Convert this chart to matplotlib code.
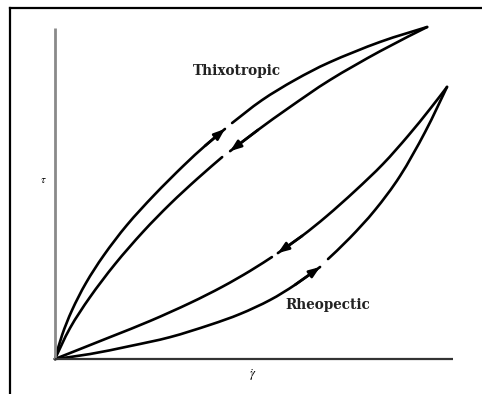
import matplotlib
matplotlib.use("Agg")
import matplotlib.pyplot as plt
import numpy as np
from matplotlib.lines import Line2D
from matplotlib.path import Path
from matplotlib.patches import PathPatch

plt.rcParams['mathtext.fontset'] = 'stix'

# Thixotropic loop (shear rate, shear stress), normalised
thixo_up_1_x = [0, .018, .043, .078, .123, .181, .249, .322, .377, .427]
thixo_up_1_y = [0, .073, .148, .230, .314, .405, .495, .583, .644, .695]
thixo_up_2_x = [.445, .520, .603, .691, .817, .935]
thixo_up_2_y = [.713, .782, .843, .897, .958, 1.003]
thixo_down_1_x = [.935, .817, .691, .590, .510, .440]
thixo_down_1_y = [1.003, .930, .843, .761, .692, .628]
thixo_down_2_x = [.420, .357, .289, .221, .151, .088, .038, 0]
thixo_down_2_y = [.610, .544, .468, .384, .287, .187, .094, 0]

# Rheopectic loop
rheo_up_1_x = [0, .088, .188, .289, .389, .465, .540, .603, .666]
rheo_up_1_y = [0, .015, .039, .066, .103, .136, .178, .224, .278]
rheo_up_2_x = [.686, .741, .804, .867, .930, .985]
rheo_up_2_y = [.302, .366, .450, .553, .686, .822]
rheo_down_1_x = [.985, .942, .887, .824, .754, .683, .621, .560]
rheo_down_1_y = [.822, .755, .674, .589, .508, .432, .372, .320]
rheo_down_2_x = [.545, .490, .420, .339, .239, .138, 0]
rheo_down_2_y = [.308, .266, .218, .169, .115, .066, 0]


def smooth_path(xs, ys):
    # cubic bezier through the points (catmull-rom tangents)
    p = np.column_stack([xs, ys])
    verts = [p[0]]
    codes = [Path.MOVETO]
    for i in range(len(p) - 1):
        p0 = p[i - 1] if i > 0 else p[i]
        p3 = p[i + 2] if i + 2 < len(p) else p[i + 1]
        c1 = p[i] + (p[i + 1] - p0) / 6
        c2 = p[i + 1] - (p3 - p[i]) / 6
        verts += [c1, c2, p[i + 1]]
        codes += [Path.CURVE4] * 3
    return Path(verts, codes)


fig = plt.figure(figsize=(4.82, 3.94), dpi=100)
fig.patch.set_facecolor('white')

# outer frame (left and top edges only)
fig.add_artist(Line2D([10/482, 10/482], [0, 1 - 8/394], color='black', lw=1.6))
fig.add_artist(Line2D([10/482, 1], [1 - 8/394, 1 - 8/394], color='black', lw=1.6))

ax = fig.add_axes([55/482, 35/394, 398/482, 331/394])
ax.set_xlim(0, 1)
ax.set_ylim(0, 1)
ax.axis('off')

# axes lines
ax.plot([0, 0], [0, 1], color='#8a8a8a', lw=2.0, clip_on=False, solid_capstyle='butt')
ax.plot([0, 1], [0, 0], color='#333333', lw=1.6, clip_on=False, solid_capstyle='butt')

segments = [
    (thixo_up_1_x, thixo_up_1_y, True),
    (thixo_up_2_x, thixo_up_2_y, False),
    (thixo_down_1_x, thixo_down_1_y, True),
    (thixo_down_2_x, thixo_down_2_y, False),
    (rheo_up_1_x, rheo_up_1_y, True),
    (rheo_up_2_x, rheo_up_2_y, False),
    (rheo_down_1_x, rheo_down_1_y, True),
    (rheo_down_2_x, rheo_down_2_y, False),
]
for xs, ys, arrow in segments:
    ax.add_patch(PathPatch(smooth_path(xs, ys), facecolor='none', edgecolor='black',
                           lw=1.9, capstyle='round', clip_on=False))
    if arrow:
        ax.annotate('', xy=(xs[-1], ys[-1]), xytext=(xs[-2], ys[-2]),
                    arrowprops=dict(arrowstyle='-|>,head_length=0.8,head_width=0.3',
                                    color='black', lw=1.9, mutation_scale=8,
                                    shrinkA=0, shrinkB=0))

ax.text(.457, .870, 'Thixotropic', family='DejaVu Serif', weight='bold',
        fontsize=9.8, ha='center', va='center', color='#222222')
ax.text(.686, .163, 'Rheopectic', family='DejaVu Serif', weight='bold',
        fontsize=9.8, ha='center', va='center', color='#222222')
ax.text(-.030, .541, r'$\tau$', fontsize=8, ha='center', va='center', clip_on=False)
ax.text(.497, -.048, r'$\dot{\gamma}$', fontsize=9, ha='center', va='center', clip_on=False)

fig.savefig('out.png', dpi=100)
